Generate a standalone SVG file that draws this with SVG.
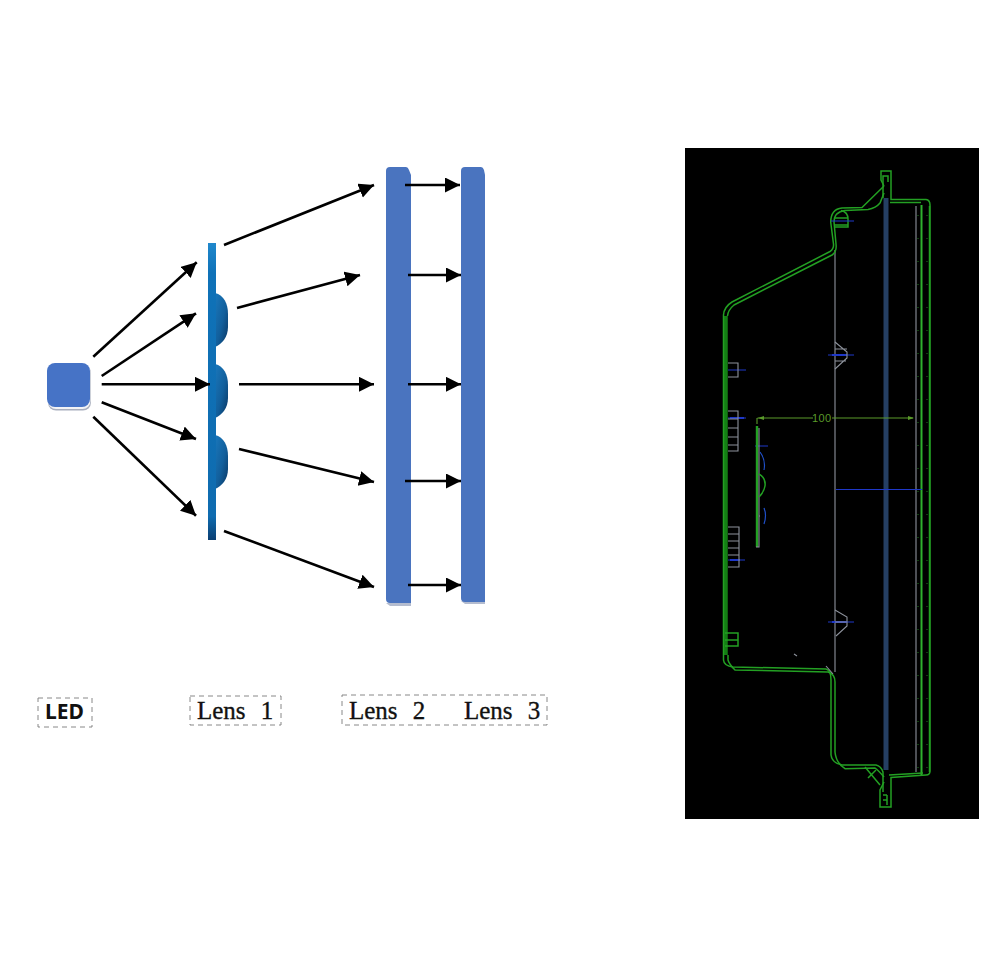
<svg xmlns="http://www.w3.org/2000/svg" width="1000" height="959" viewBox="0 0 1000 959">
<style>
.arrow{stroke:#000;stroke-width:2.600;fill:none;marker-end:url(#ah)}
.box{fill:none;stroke:#7a7a7a;stroke-width:.9;stroke-dasharray:5 4}
.ser{font-family:"Liberation Serif","DejaVu Serif",serif;font-size:25px;fill:#111;stroke:#111;stroke-width:.35;word-spacing:9px}
.g{fill:none;stroke:#23a023;stroke-width:1.500}
.gd{fill:none;stroke:#1c8f1c;stroke-width:1.700}
.w{fill:none;stroke:#8d929c;stroke-width:1.100}
.b{fill:none;stroke:#1f38c8;stroke-width:1.100}
.lens{fill:#4a74bf}
</style>
<defs>
<marker id="ah" markerUnits="userSpaceOnUse" markerWidth="16" markerHeight="16" refX="15" refY="7.500" orient="auto"><path d="M0 0L15 7.500L0 15Z" fill="#000"/></marker>
<linearGradient id="bar" x1="0" y1="0" x2="0" y2="1"><stop offset="0" stop-color="#2088cc"/><stop offset=".1" stop-color="#0f72b8"/><stop offset=".92" stop-color="#0f6cb0"/><stop offset="1" stop-color="#0b3f72"/></linearGradient>
<linearGradient id="bump" x1="0" y1="0" x2="1" y2="1"><stop offset="0" stop-color="#1a78bc"/><stop offset=".55" stop-color="#125f9c"/><stop offset="1" stop-color="#0a3560"/></linearGradient>
</defs>
<rect width="1000" height="959" fill="#fff"/>
<g id="led"><rect x="48" y="365" width="43" height="45.500" rx="8" fill="#a8aebd"/><rect x="48" y="364" width="42.500" height="45" rx="8" fill="#f2f3f6"/><rect x="47" y="363" width="43" height="44" rx="8" fill="#4673c6"/></g>
<g id="lens1">
<path d="M215 293C224 295 228 304 228 314V327C228 337 222 344 215 347Z" fill="url(#bump)"/>
<path d="M215 364C224 366 228 375 228 385V398C228 408 222 415 215 418Z" fill="url(#bump)"/>
<path d="M215 435C224 437 228 446 228 456V469C228 479 222 486 215 489Z" fill="url(#bump)"/>
<rect x="208" y="243" width="8" height="297" fill="url(#bar)"/>
</g>
<g id="lens2"><path d="M386 603H411V606H390Z" fill="#b4bccf"/><path class="lens" d="M386 171Q386 167 390 167H406Q408 167 409 170L411 175V603H390Q386 603 386 599Z"/></g>
<g id="lens3"><path d="M461 601H485V604H465Z" fill="#b4bccf"/><path class="lens" d="M461 171Q461 167 465 167H481Q483 167 484 170L485 175V602H465Q461 602 461 598Z"/></g>
<g id="connectors">
<path class="arrow" d="M93.300 356.700L196.700 262.300"/>
<path class="arrow" d="M101.700 376L196 313.300"/>
<path class="arrow" d="M101.700 384.300H210"/>
<path class="arrow" d="M101.700 402.300L196 439"/>
<path class="arrow" d="M93.300 416.700L196 515.700"/>
<path class="arrow" d="M224 245L374 185"/>
<path class="arrow" d="M237 308L360 275"/>
<path class="arrow" d="M239 384.300H374"/>
<path class="arrow" d="M239 449L374 482"/>
<path class="arrow" d="M224 531L374 587"/>
<path class="arrow" d="M405 185H460"/>
<path class="arrow" d="M408 275H461"/>
<path class="arrow" d="M408 384.300H461"/>
<path class="arrow" d="M405 481H461"/>
<path class="arrow" d="M408 585H461"/>
</g>
<g id="label-led"><rect class="box" x="38" y="698" width="54" height="29"/><text x="45" y="719" font-family="'Noto Sans','Liberation Sans',sans-serif" font-size="21" font-weight="700" fill="#111">LED</text></g>
<g id="label-lens1"><rect class="box" x="190" y="696" width="91" height="29"/><text class="ser" x="197" y="719">Lens 1</text></g>
<g id="label-lens23"><rect class="box" x="342" y="695" width="205" height="30"/><text class="ser" x="349" y="719">Lens 2</text><text class="ser" x="464" y="719">Lens 3</text></g>
<g id="cad">
<rect x="685" y="148" width="294" height="671" fill="#000"/>
<rect x="883.500" y="198" width="5" height="572" fill="#253f63"/>
<path class="w" d="M835 250V672M916 206V772"/>
<path d="M921.500 205V776" fill="none" stroke="#2fb02f" stroke-width="2"/>
<path class="g" d="M929.500 206V772"/>
<path d="M918 215V770M927 215V770" fill="none" stroke="#1c7a1c" stroke-width="1" stroke-dasharray="1 22"/>
<path d="M725.500 316V655" fill="none" stroke="#147f14" stroke-width="4.500"/>
<path class="g" d="M884 186L881 180V171H891V199.500H926Q930 200 930 205V771Q930 775 926 775L891 777.500V807H880V790L884 782"/>
<path class="g" d="M723.500 655V315Q724 307 732 302L830 251.500Q834 249 833.500 244L830.700 222Q831 209 842 208L862 207.500L884 186"/>
<path class="g" d="M727.500 316Q728 310 734 305L832 255Q837 252 836 244L834 222Q834 212 845 210.500L868 209.500Q876 208 880 203L884 193"/>
<path class="g" d="M890 202.500H921"/>
<path class="g" d="M883 198V176H888V182"/>
<path class="g" d="M723.500 655V660Q724 666 733 667L826 669Q831 670 831 680V755Q832 763 842 765L876 765Q881 766 883 772V792"/>
<path class="g" d="M728 655V660Q729 664 735 670L828 672Q835 674 835 682V752Q836 763 845 768.700L875 768Q878 770 884 777M889 775L923 773"/>
<path class="g" d="M865 767L880 785M876 770L868 778M887 795V805M883 795H887M883 800H887" stroke-width="1.100"/>
<path class="g" d="M834 218H848M834 225H848M841 210.500Q848 212 848 219V227H834"/>
<path class="b" d="M831 221H854M828 355H854M828 622H854M836 489.500H922M728 370H746M728 418H746M755 446H768M728 560H745"/>
<path d="M730 418H744M730 560H740M832 355H847M832 622H847" fill="none" stroke="#1f38c8" stroke-width="2"/>
<path class="w" d="M728 363H738V377H728M728 411H738V451H728M728 419H738M728 428H738M728 437H738M728 445H738M728 527H739V567H728M728 534H739M728 541H739M728 548H739M728 555H739"/>
<path class="w" d="M835 342L847 352V358L835 369M835 610L847 617V626L836 636M835 349H847M835 361H846M835 622H846"/>
<path class="g" d="M725 633H738V646H725M725 640H738"/>
<path class="w" d="M794 654L797 656M826 666L833 674"/>
<path d="M757 426V547" stroke="#23a023" stroke-width="2.400" fill="none"/>
<path class="w" d="M759 428V547H756M759 516H760"/>
<path d="M760 452Q766 460 764 470M764 508Q767 515 764 524" fill="none" stroke="#1f4fc8" stroke-width="1.200"/>
<path class="g" d="M759 474Q766 478 765 486Q764 492 759 497"/>
<path d="M757 418V424M757.500 418H813M832 418H913" fill="none" stroke="#5a9a2a" stroke-width="1.100"/>
<path d="M758 418L764 416V420ZM914 418L908 416V420Z" fill="#5a9a2a"/>
<text x="812" y="422" font-family="'Liberation Sans',sans-serif" font-size="11" fill="#5a9a2a" textLength="19">100</text>
</g>
</svg>
